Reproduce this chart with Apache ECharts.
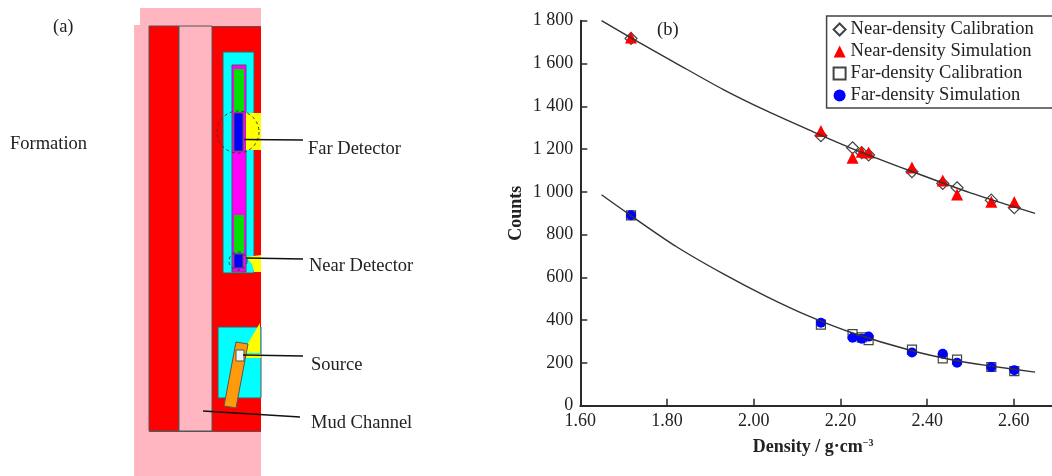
<!DOCTYPE html>
<html><head><meta charset="utf-8">
<style>html,body{margin:0;padding:0;background:#fff}#c{width:1052px;height:476px}</style>
<script src="https://cdn.jsdelivr.net/npm/echarts@6/dist/echarts.min.js"></script>
</head><body><div id="c"></div>
<script>
const density = [1.717, 2.155, 2.228, 2.249, 2.265, 2.365, 2.436, 2.469, 2.548, 2.601];
const nearCalibration = [1717, 1262, 1206, 1183, 1172, 1094, 1039, 1019, 961, 926];
const nearSimulation = [1722, 1284, 1159, 1187, 1184, 1114, 1053, 988, 954, 952];
const farCalibration = [890, 379, 335, 319, 307, 262, 221, 215, 181, 162];
const farSimulation = [890, 388, 318, 313, 323, 249, 243, 201, 181, 166];
const nearFitX = [1.649, 1.715, 1.815, 1.93, 2.03, 2.13, 2.23, 2.365, 2.5, 2.6, 2.649];
const nearFitY = [1800, 1722, 1608, 1478, 1378, 1287, 1200, 1095, 995, 930, 899];
const farFitX = [1.649, 1.715, 1.822, 1.93, 2.03, 2.13, 2.228, 2.365, 2.469, 2.548, 2.649];
const farFitY = [986, 891, 743, 616, 510, 416, 340, 257, 210, 185, 157];
const FONT = '"Liberation Serif","Times New Roman",serif';
const INK = '#222';
const PINK = '#ffb6c1', RED = '#ff0000', CYAN = '#00ffff', MAG = '#ff00ff', GREEN = '#00e000', BLUE = '#0000ff', YEL = '#ffff00', ORANGE = '#ff9a0a', EDGE = '#555';

const zip = (xs, ys) => xs.map((x, i) => [x, ys[i]]);
const rect = (x, y, w, h, fill, stroke, z) => ({type:'rect', silent:true, z:z||1, shape:{x, y, width:w, height:h}, style:{fill, stroke:stroke||null, lineWidth:1}});
const poly = (points, fill, stroke, z) => ({type:'polygon', silent:true, z:z||1, shape:{points}, style:{fill, stroke:stroke||null, lineWidth:1}});
const seg = (x1, y1, x2, y2) => ({type:'line', silent:true, z:5, shape:{x1, y1, x2, y2}, style:{stroke:'#111', lineWidth:1.5}});
const ring = (cx, cy, r) => ({type:'circle', silent:true, z:4, shape:{cx, cy, r}, style:{fill:null, stroke:'#334', lineWidth:1, lineDash:[3,3]}});
const label = (x, y, text) => ({type:'text', silent:true, z:6, x, y, style:{text, font:'18.5px '+FONT, fill:INK, textBaseline:'middle'}});

const schematic = [
  rect(140, 8, 121, 18, PINK), rect(134, 25, 127, 451, PINK),
  rect(149, 26, 30, 405, RED, EDGE), rect(212, 26, 49, 405, RED),
  rect(179, 26, 33, 405, PINK, EDGE, 2),
  {type:'line', silent:true, z:2, shape:{x1:149,y1:431.5,x2:261,y2:431.5}, style:{stroke:EDGE,lineWidth:1}},
  {type:'line', silent:true, z:2, shape:{x1:212,y1:26.5,x2:261,y2:26.5}, style:{stroke:EDGE,lineWidth:1}},
  rect(223, 52, 31, 221, CYAN, EDGE, 2),
  rect(232, 65, 14, 207, MAG, EDGE, 3),
  rect(234, 69, 10, 43, GREEN, null, 3), rect(234, 113, 9, 38, BLUE, EDGE, 3),
  rect(234, 215, 10, 38, GREEN, null, 3), rect(234, 254, 9, 14, BLUE, EDGE, 3),
  rect(246, 113, 15, 37, YEL, null, 3),
  poly([[246,257],[261,255],[261,272],[254,272],[252,264]], YEL, null, 3),
  ring(238, 132, 21), ring(238, 261, 9),
  rect(218, 327, 43, 71, CYAN, EDGE, 2),
  poly([[260,323],[248,343],[245,353],[260,353]], YEL, null, 3),
  rect(245, 354, 16, 4, YEL, null, 3),
  poly([[236,342],[248,344],[236,408],[224,406]], ORANGE, EDGE, 3),
  rect(236, 350, 8, 11, '#f4f4f4', EDGE, 4),
  seg(244,139.5,303,140), seg(246,258,303,259), seg(243,355,303,356), seg(203,411,300,417),
  label(10,135,'Formation'), label(53,18,'(a)'), label(308,140,'Far Detector'),
  label(309,257,'Near Detector'), label(311,356,'Source'), label(311,414,'Mud Channel'), label(657,21,'(b)')
];

const scatter = (name, ys, symbol, size, style) => ({
  name, type:'scatter', symbol, symbolSize:size, data:zip(density, ys), itemStyle:style, z:3, silent:true
});
const fit = (xs, ys) => ({
  type:'line', data:zip(xs, ys), smooth:0.3, showSymbol:false, symbol:'none', silent:true, z:5,
  lineStyle:{color:'#333', width:1.4}
});
const hollow = {color:'rgba(255,255,255,0)', borderColor:'#444', borderWidth:1.2, opacity:1};

const chart = echarts.init(document.getElementById('c'), null, {renderer:'canvas'});
chart.setOption({
  animation:false,
  backgroundColor:'#fff',
  textStyle:{fontFamily:FONT},
  grid:{left:580.3, top:20.7, right:0, height:385, containLabel:false},
  legend:{
    left:826.6, top:16, orient:'vertical', itemWidth:12, itemHeight:12, itemGap:3,
    padding:[4,30,3,6], borderColor:'#444', borderWidth:1.5, selectedMode:false,
    data:['Near-density Calibration','Near-density Simulation','Far-density Calibration','Far-density Simulation'],
    textStyle:{fontFamily:FONT, fontSize:18.5, color:INK}
  },
  xAxis:{
    type:'value', min:1.6, max:2.688, interval:0.2,
    axisLine:{lineStyle:{color:'#2a2a2a', width:2}}, axisTick:{inside:true, length:7, lineStyle:{color:'#2a2a2a', width:1.5}},
    splitLine:{show:false},
    axisLabel:{fontFamily:FONT, fontSize:18, color:INK, margin:7, formatter:v => v.toFixed(2), showMaxLabel:false},
    name:'{a|Density / g·cm}{b|−3}', nameLocation:'middle', nameGap:33,
    nameTextStyle:{padding:[0,6,0,0], rich:{
      a:{fontFamily:FONT, fontSize:18, fontWeight:'bold', color:INK},
      b:{fontFamily:FONT, fontSize:10, fontWeight:'bold', color:INK, verticalAlign:'top', padding:[0,0,6,0]}
    }}
  },
  yAxis:{
    type:'value', min:0, max:1800, interval:200,
    axisLine:{lineStyle:{color:'#2a2a2a', width:2}}, axisTick:{inside:true, length:7, lineStyle:{color:'#2a2a2a', width:1.5}},
    splitLine:{show:false},
    axisLabel:{fontFamily:FONT, fontSize:18, color:INK, margin:7, formatter:v => v >= 1000 ? String(v).replace(/^(\d)(\d{3})$/, '$1 $2') : String(v)},
    name:'Counts', nameLocation:'middle', nameGap:55,
    nameTextStyle:{fontFamily:FONT, fontSize:18, fontWeight:'bold', color:INK}
  },
  graphic:{elements:schematic},
  series:[
    scatter('Near-density Calibration', nearCalibration, 'diamond', 12, hollow),
    scatter('Far-density Calibration', farCalibration, 'rect', 9, hollow),
    scatter('Near-density Simulation', nearSimulation, 'triangle', 12, {color:'#ff0000', opacity:1}),
    scatter('Far-density Simulation', farSimulation, 'circle', 10, {color:'#0000ff', opacity:1}),
    fit(nearFitX, nearFitY), fit(farFitX, farFitY)
  ]
});
</script></body></html>
